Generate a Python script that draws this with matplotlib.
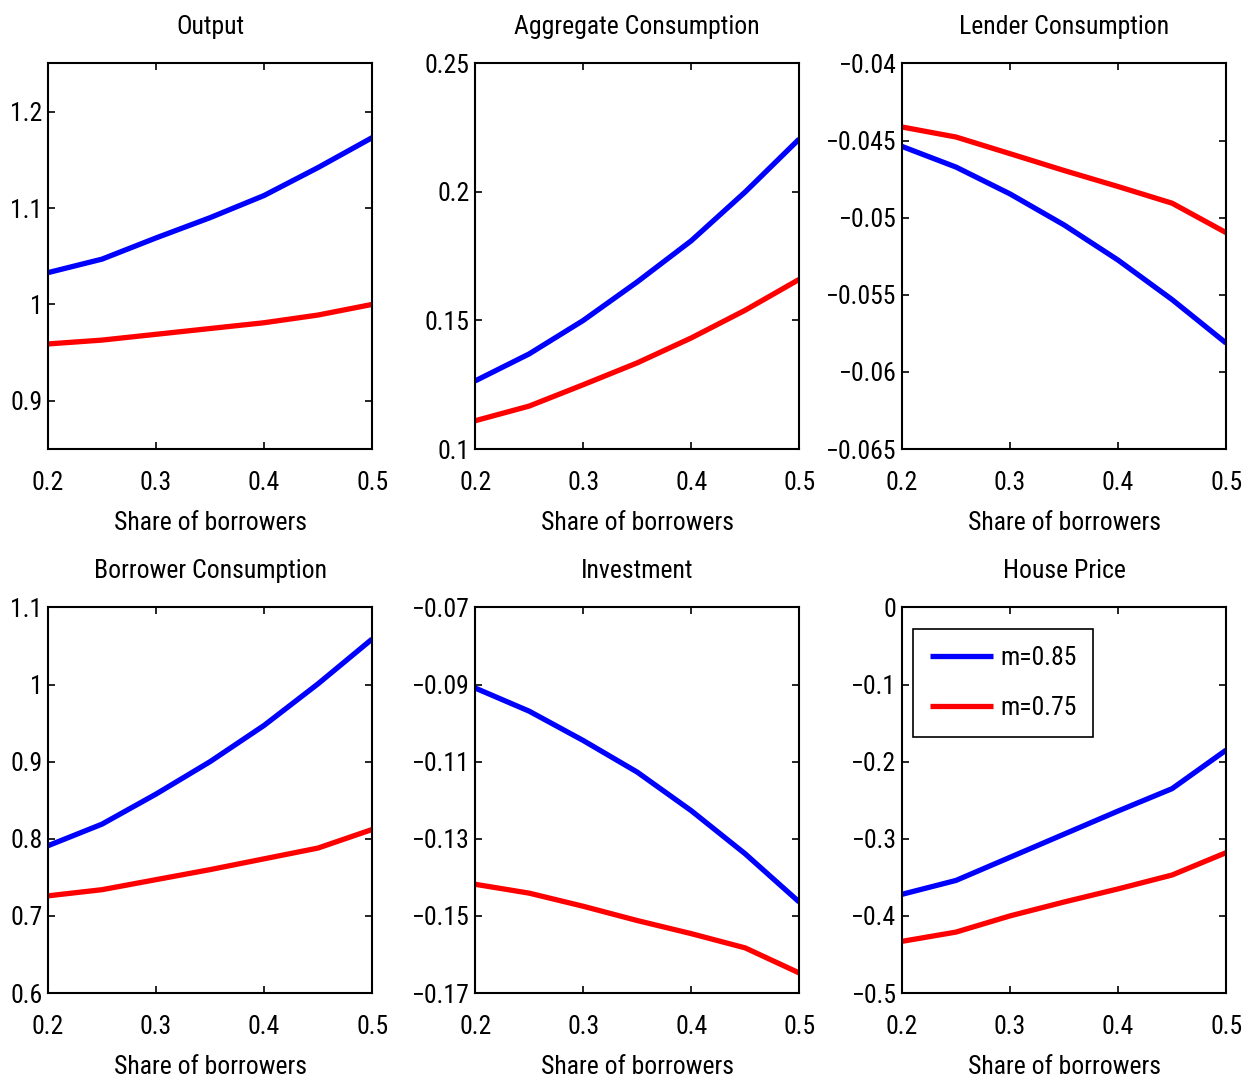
import numpy as np
import matplotlib
matplotlib.use("Agg")
import matplotlib.pyplot as plt

# share of borrowers
share = [0.2, 0.25, 0.3, 0.35, 0.4, 0.45, 0.5]

output_hi = [1.033, 1.047, 1.069, 1.090, 1.113, 1.142, 1.173]
output_lo = [0.959, 0.963, 0.969, 0.975, 0.981, 0.989, 1.000]

aggc_hi = [0.1265, 0.137, 0.150, 0.165, 0.181, 0.200, 0.2206]
aggc_lo = [0.111, 0.1167, 0.125, 0.1335, 0.1432, 0.154, 0.166]

lender_hi = [-0.04538, -0.04672, -0.04846, -0.05047, -0.05275, -0.05531, -0.05813]
lender_lo = [-0.04412, -0.04477, -0.04585, -0.04694, -0.04798, -0.04906, -0.05097]

borrower_hi = [0.791, 0.819, 0.858, 0.900, 0.947, 1.001, 1.059]
borrower_lo = [0.726, 0.734, 0.747, 0.760, 0.774, 0.788, 0.812]

invest_hi = [-0.0909, -0.0969, -0.1045, -0.1127, -0.1227, -0.1339, -0.1464]
invest_lo = [-0.1418, -0.1441, -0.1475, -0.1512, -0.1546, -0.1583, -0.1648]

house_hi = [-0.372, -0.354, -0.324, -0.294, -0.264, -0.235, -0.185]
house_lo = [-0.433, -0.421, -0.400, -0.382, -0.365, -0.347, -0.318]

titles = ["Output", "Aggregate Consumption", "Lender Consumption",
          "Borrower Consumption", "Investment", "House Price"]
series = [(output_hi, output_lo), (aggc_hi, aggc_lo), (lender_hi, lender_lo),
          (borrower_hi, borrower_lo), (invest_hi, invest_lo), (house_hi, house_lo)]
ylims = [(0.85, 1.25), (0.1, 0.25), (-0.065, -0.04),
         (0.6, 1.1), (-0.17, -0.07), (-0.5, 0.0)]
yticks = [[0.9, 1.0, 1.1, 1.2],
          [0.1, 0.15, 0.2, 0.25],
          [-0.065, -0.06, -0.055, -0.05, -0.045, -0.04],
          [0.6, 0.7, 0.8, 0.9, 1.0, 1.1],
          [-0.17, -0.15, -0.13, -0.11, -0.09, -0.07],
          [-0.5, -0.4, -0.3, -0.2, -0.1, 0.0]]
yticklabels = [["0.9", "1", "1.1", "1.2"],
               ["0.1", "0.15", "0.2", "0.25"],
               ["\u22120.065", "\u22120.06", "\u22120.055", "\u22120.05", "\u22120.045", "\u22120.04"],
               ["0.6", "0.7", "0.8", "0.9", "1", "1.1"],
               ["\u22120.17", "\u22120.15", "\u22120.13", "\u22120.11", "\u22120.09", "\u22120.07"],
               ["\u22120.5", "\u22120.4", "\u22120.3", "\u22120.2", "\u22120.1", "0"]]
xticks = [0.2, 0.3, 0.4, 0.5]
legend_labels = ["m=0.85", "m=0.75"]

plt.rcParams['font.family'] = ['Roboto Condensed', 'Archivo Narrow', 'PT Sans Narrow',
                               'IBM Plex Sans Condensed', 'Liberation Sans', 'DejaVu Sans']
fs = 18.5

fig = plt.figure(figsize=(12.57, 10.83), dpi=100)
lefts = [0.0382, 0.378, 0.7176]
bottoms = [0.5854, 0.0831]
w, h = 0.2578, 0.356

for i in range(6):
    r, c = divmod(i, 3)
    ax = fig.add_axes([lefts[c], bottoms[r], w, h])
    hi, lo = series[i]
    l1, = ax.plot(share, hi, color='#0000ff', lw=3.8, solid_capstyle='butt')
    l2, = ax.plot(share, lo, color='#ff0000', lw=3.8, solid_capstyle='butt')
    ax.set_xlim(0.2, 0.5)
    ax.set_ylim(*ylims[i])
    ax.set_xticks(xticks)
    ax.set_xticklabels([str(x) for x in xticks], fontsize=fs)
    ax.set_yticks(yticks[i])
    ax.set_yticklabels(yticklabels[i], fontsize=fs)
    ax.tick_params(direction='in', top=True, right=True, length=5, width=1.2)
    ax.tick_params(axis='x', pad=15.5)
    ax.tick_params(axis='y', pad=4)
    for s in ax.spines.values():
        s.set_linewidth(1.5)
    ax.set_title(titles[i], fontsize=fs, pad=21.5)
    ax.set_xlabel("Share of borrowers", fontsize=fs, labelpad=11.5)
    if i == 5:
        leg = ax.legend([l1, l2], legend_labels, loc='upper left', fontsize=fs,
                        fancybox=False, edgecolor='black', framealpha=1,
                        handlelength=2.45, borderpad=0.65, labelspacing=1.0,
                        handletextpad=0.3, borderaxespad=0,
                        bbox_to_anchor=(0.034, 0.943))
        leg.get_frame().set_linewidth(1.2)

fig.savefig("out.png", dpi=100)
